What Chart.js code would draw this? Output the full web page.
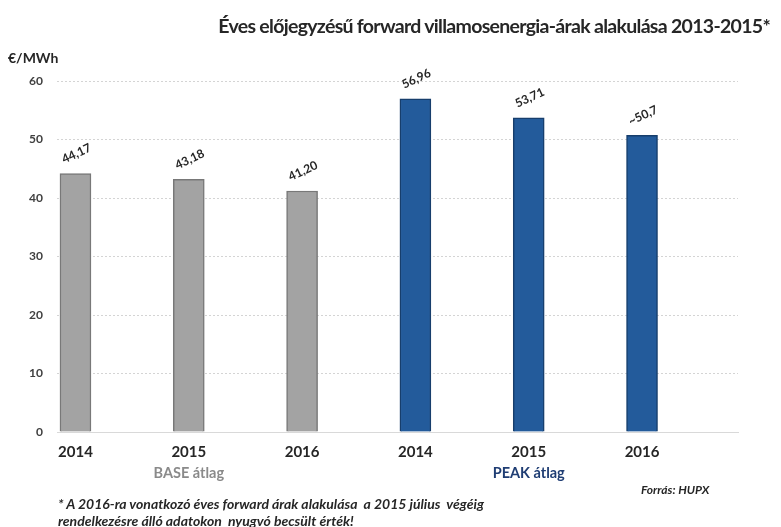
<!DOCTYPE html>
<html lang="hu">
<head>
<meta charset="utf-8">
<script src="https://cdn.jsdelivr.net/npm/chart.js@4.4.0/dist/chart.umd.min.js"></script>
<style>
    html, body { margin: 0; padding: 0; background: #fff; }
    .wrap { position: relative; width: 781px; height: 527px; font-family: Lato, 'Open Sans', sans-serif; color: #262626; }
    .wrap canvas { position: absolute; left: 0; top: 0; }
    .title { position: absolute; right: 11px; top: 14px; font-size: 19.5px; letter-spacing: -0.7px; font-weight: bold; white-space: nowrap; }
    .unit { position: absolute; left: 8px; top: 49px; font-size: 14px; font-weight: bold; }
    .note { position: absolute; left: 58px; top: 495px; font-size: 14px; font-weight: bold; font-style: italic; line-height: 17px; white-space: nowrap; }
    .src { position: absolute; left: 641px; top: 482px; font-size: 12px; font-weight: bold; font-style: italic; white-space: nowrap; }
</style>
</head>
<body>
<div class="wrap">
    <canvas id="myChart" width="781" height="527"></canvas>
    <div class="title">Éves előjegyzésű forward villamosenergia-árak alakulása 2013-2015*</div>
    <div class="unit">€/MWh</div>
    <div class="src">Forrás: HUPX</div>
    <div class="note">* A 2016-ra vonatkozó éves forward árak alakulása&nbsp; a 2015 július&nbsp; végéig<br>rendelkezésre álló adatokon&nbsp; nyugvó becsült érték!</div>
</div>
<script>
const categories = ['2014', '2015', '2016', '2014', '2015', '2016'];
const groups = ['BASE átlag', 'PEAK átlag'];
const groupAt = [1, 4];
const prices = [44.17, 43.18, 41.20, 56.96, 53.71, 50.7];
const priceLabels = ['44,17', '43,18', '41,20', '56,96', '53,71', '~50,7'];

const fills = ['#a3a3a3', '#a3a3a3', '#a3a3a3', '#235b9b', '#235b9b', '#235b9b'];
const borders = ['#787878', '#787878', '#787878', '#173e6c', '#173e6c', '#173e6c'];

// rotated value labels above bars
const valueLabels = {
    id: 'valueLabels',
    afterDatasetsDraw(chart) {
        const ctx = chart.ctx;
        const meta = chart.getDatasetMeta(0);
        ctx.save();
        ctx.font = 'bold 12px Lato, sans-serif';
        ctx.fillStyle = '#262626';
        ctx.textAlign = 'center';
        ctx.textBaseline = 'middle';
        meta.data.forEach((bar, i) => {
            ctx.save();
            ctx.translate(bar.x + 1, bar.y - 20);
            ctx.rotate(-25 * Math.PI / 180);
            ctx.fillText(priceLabels[i], 0, 0);
            ctx.restore();
        });
        ctx.restore();
    }
};

document.addEventListener('DOMContentLoaded', () => {
    const ctx = document.getElementById('myChart').getContext('2d');
    new Chart(ctx, {
        type: 'bar',
        data: {
            datasets: [{
                label: '€/MWh',
                data: prices.map((v, i) => ({ x: i, y: v })),
                backgroundColor: fills,
                borderColor: borders,
                borderWidth: 1.5,
                barThickness: 31
            }]
        },
        options: {
            responsive: false,
            animation: false,
            plugins: {
                legend: { display: false },
                tooltip: { enabled: false }
            },
            layout: {
                padding: { left: 0, right: 43, top: 81, bottom: 41 }
            },
            scales: {
                x: {
                    type: 'linear',
                    offset: false,
                    min: -0.163,
                    max: 5.847,
                    weight: 0,
                    afterBuildTicks: (scale) => {
                        scale.ticks = categories.map((c, i) => ({ value: i }));
                    },
                    afterFit: (scale) => { scale.height = 30; },
                    ticks: {
                        autoSkip: false,
                        maxRotation: 0,
                        padding: 11,
                        color: '#262626',
                        font: { size: 15, weight: 'bold', family: 'Lato, sans-serif' },
                        callback: (value) => categories[value]
                    },
                    grid: { display: false, drawTicks: false },
                    border: { display: true, color: '#d9d9d9', width: 1 }
                },
                x2: {
                    type: 'linear',
                    position: 'bottom',
                    offset: false,
                    min: -0.163,
                    max: 5.847,
                    weight: 1,
                    afterBuildTicks: (scale) => {
                        scale.ticks = groupAt.map(v => ({ value: v }));
                    },
                    afterFit: (scale) => { scale.height = 24; },
                    ticks: {
                        autoSkip: false,
                        maxRotation: 0,
                        padding: 3,
                        color: (c) => c.index === 0 ? '#8a8a8a' : '#1f3d73',
                        font: { size: 14.5, weight: 'bold', family: 'Lato, sans-serif' },
                        callback: (value) => groups[groupAt.indexOf(value)]
                    },
                    grid: { display: false, drawTicks: false },
                    border: { display: false }
                },
                y: {
                    min: 0,
                    max: 60,
                    afterFit: (scale) => { scale.width = 57; },
                    ticks: {
                        stepSize: 10,
                        padding: 14,
                        color: '#404040',
                        font: { size: 12, weight: 'bold', family: 'Lato, sans-serif' }
                    },
                    grid: { color: '#d4d4d4', lineWidth: 1, drawTicks: false },
                    border: { display: false, dash: [2, 2] }
                }
            }
        },
        plugins: [valueLabels]
    });
});
</script>
</body>
</html>
